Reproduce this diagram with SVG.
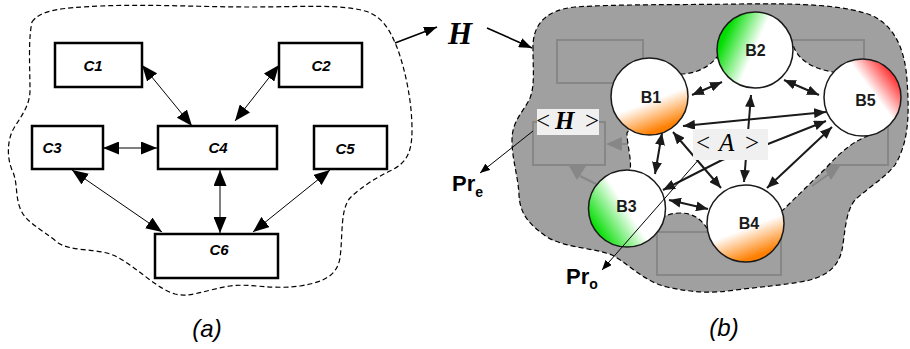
<svg xmlns="http://www.w3.org/2000/svg" width="910" height="349" viewBox="0 0 910 349">
<defs>
<style>
.box{fill:#fff;stroke:#000;stroke-width:2.5}
.clab{font-family:"Liberation Sans",Arial,sans-serif;font-style:italic;font-weight:bold;font-size:15px;text-anchor:middle;fill:#000}
.blab{font-family:"Liberation Sans",Arial,sans-serif;font-weight:bold;font-size:16px;text-anchor:middle;fill:#1a1a1a}
.circ{stroke:#1a1a1a;stroke-width:1.5}
.ca{stroke:#000;stroke-width:1;fill:none;marker-start:url(#ha);marker-end:url(#ha)}
.cb{stroke:#1a1a1a;stroke-width:2;fill:none;marker-start:url(#hb);marker-end:url(#hb)}
.cp{stroke:#000;stroke-width:1;fill:none;marker-end:url(#hs)}
.ch{stroke:#000;stroke-width:1.6;fill:none;marker-end:url(#hh)}
.blob{stroke:#000;stroke-width:1.2;stroke-dasharray:5 3}
.ghost{fill:none;stroke:#878787;stroke-width:2}
.gh{fill:#878787}
.ser{font-family:"Liberation Serif","Times New Roman",serif;font-size:25px;fill:#000}
.cap{font-family:"Liberation Sans",Arial,sans-serif;font-style:italic;font-size:24px;text-anchor:middle;fill:#000}
.pr{font-family:"Liberation Sans",Arial,sans-serif;font-weight:bold;font-size:22px;fill:#000}
.lbox{fill:#f0f0f0}
</style>
<marker id="ha" markerUnits="userSpaceOnUse" viewBox="0 0 16 13" refX="16" refY="6.5" markerWidth="16" markerHeight="13" orient="auto-start-reverse"><path d="M0,0 L16,6.5 L0,13 z" fill="#000"/></marker>
<marker id="hb" markerUnits="userSpaceOnUse" viewBox="0 0 12 10" refX="12" refY="5" markerWidth="12" markerHeight="10" orient="auto-start-reverse"><path d="M0,0 L12,5 L0,10 z" fill="#1a1a1a"/></marker>
<marker id="hs" markerUnits="userSpaceOnUse" viewBox="0 0 10 8" refX="10" refY="4" markerWidth="10" markerHeight="8" orient="auto"><path d="M0,0 L10,4 L0,8 z" fill="#000"/></marker>
<marker id="hh" markerUnits="userSpaceOnUse" viewBox="0 0 13 10" refX="13" refY="5" markerWidth="13" markerHeight="10" orient="auto"><path d="M0,0 L13,5 L0,10 z" fill="#000"/></marker>
<linearGradient id="gOr" x1="0.35" y1="0.3" x2="0.62" y2="1"><stop offset="0" stop-color="#fff"/><stop offset="0.4" stop-color="#fff"/><stop offset="0.92" stop-color="#ff7f00"/><stop offset="1" stop-color="#ff7f00"/></linearGradient>
<linearGradient id="gGr2" x1="0" y1="0.3" x2="0.72" y2="0.62"><stop offset="0" stop-color="#00dd00"/><stop offset="0.12" stop-color="#00dd00"/><stop offset="0.68" stop-color="#fff"/><stop offset="1" stop-color="#fff"/></linearGradient>
<linearGradient id="gGr3" x1="0" y1="0.8" x2="0.7" y2="0.35"><stop offset="0" stop-color="#00dd00"/><stop offset="0.1" stop-color="#00dd00"/><stop offset="0.7" stop-color="#fff"/><stop offset="1" stop-color="#fff"/></linearGradient>
<linearGradient id="gRd" x1="1" y1="0.1" x2="0.4" y2="0.55"><stop offset="0" stop-color="#ff0000"/><stop offset="0.08" stop-color="#ff0000"/><stop offset="0.66" stop-color="#fff"/><stop offset="1" stop-color="#fff"/></linearGradient>
</defs>

<g id="boundary-a">
<path class="blob" fill="#fff" d="M32,22 C40,10 60,8 100,6 C150,4 200,7 250,7 C300,7 340,4 365,11 C385,17 392,35 398,50 C405,70 412,100 412,130 C412,155 405,163 392,170 C375,178 360,188 350,198 C340,210 343,235 340,258 C337,275 325,282 300,286 C270,290 250,283 230,286 C205,290 190,298 175,294 C155,288 135,265 113,255 C95,248 70,252 57,242 C40,228 25,222 20,208 C15,195 18,182 12,170 C6,155 8,138 14,128 C22,115 30,105 30,90 C30,70 28,40 32,22 Z"/>
</g>

<g id="C1"><rect class="box" x="55" y="43" width="87" height="44"/><text class="clab" x="93" y="71">C1</text></g>
<g id="C2"><rect class="box" x="279" y="43" width="83" height="44"/><text class="clab" x="321" y="71">C2</text></g>
<g id="C3"><rect class="box" x="32" y="126" width="71" height="43"/><text class="clab" x="52" y="153">C3</text></g>
<g id="C4"><rect class="box" x="158" y="126" width="119" height="43"/><text class="clab" x="218" y="153">C4</text></g>
<g id="C5"><rect class="box" x="314" y="126" width="73" height="43"/><text class="clab" x="345" y="154">C5</text></g>
<g id="C6"><rect class="box" x="155" y="234" width="123" height="44"/><text class="clab" x="219" y="255">C6</text></g>

<g id="connectors-a">
<line class="ca" x1="142" y1="65" x2="192" y2="126"/>
<line class="ca" x1="279" y1="65" x2="235" y2="121"/>
<line class="ca" x1="103" y1="148" x2="157" y2="148"/>
<line class="ca" x1="72" y1="170" x2="162" y2="232"/>
<line class="ca" x1="220" y1="170" x2="220" y2="233"/>
<line class="ca" x1="330" y1="170" x2="253" y2="232"/>
<line class="ch" x1="395" y1="43" x2="437" y2="27"/>
<line class="ch" x1="487" y1="28" x2="532" y2="48"/>
</g>

<g id="H-label"><text x="448" y="44" font-family="'Liberation Serif','Times New Roman',serif" font-size="31" font-style="italic" font-weight="bold">H</text></g>

<g id="boundary-b">
<path class="blob" fill="#a0a0a0" d="M533,50 C532,25 545,10 575,7 C620,4 680,5 740,4 C800,3 850,5 875,17 C895,28 905,50 907,80 C909,110 910,140 895,165 C885,178 865,190 855,200 C845,212 845,235 842,250 C838,268 825,278 800,282 C775,286 760,287 735,290 C710,294 690,292 667,287 C645,282 630,265 612,255 C595,248 565,248 547,237 C530,225 520,215 519,195 C518,175 512,160 512,140 C512,120 525,110 530,98 C535,85 533,70 533,50 Z"/>
<rect class="ghost" x="557" y="40" width="86" height="43"/>
<rect class="ghost" x="781" y="40" width="83" height="43"/>
<rect class="ghost" x="533" y="122" width="72" height="43"/>
<rect class="ghost" x="815" y="122" width="73" height="43"/>
<rect class="ghost" x="657" y="232" width="124" height="43"/>
<line class="ghost" x1="620" y1="144" x2="630" y2="144"/>
<polygon class="gh" points="606,144 622,137 622,151"/>
<line class="ghost" stroke-width="1" x1="580" y1="176" x2="598" y2="185"/>
<polygon class="gh" points="569,166 586,166 577,180"/>
<line class="ghost" stroke-width="1" x1="829" y1="174" x2="812" y2="186"/>
<polygon class="gh" points="823,166 840,166 831,180"/>
<path class="blob" fill="#fff" d="M650,100 L680,74 C695,74 708,68 717,57 L755,50 L793,45 C797,57 808,68 833,72 L862,97 L870,135 C856,140 842,150 827,167 L783,210 L745,223 L707,228 C700,218 692,213 680,213 C673,213 668,215 665,216 L627,208 L630,170 C632,160 627,145 627,133 Z"/>
</g>

<g id="B1"><circle class="circ" cx="649.5" cy="96.5" r="38.5" fill="url(#gOr)"/><text class="blab" x="651" y="103">B1</text></g>
<g id="B2"><circle class="circ" cx="755" cy="50" r="38" fill="url(#gGr2)"/><text class="blab" x="755.5" y="56">B2</text></g>
<g id="B3"><circle class="circ" cx="627" cy="208.5" r="38.5" fill="url(#gGr3)"/><text class="blab" x="626.5" y="212">B3</text></g>
<g id="B4"><circle class="circ" cx="745.5" cy="223.5" r="38.5" fill="url(#gOr)"/><text class="blab" x="749" y="229">B4</text></g>
<g id="B5"><circle class="circ" cx="862.5" cy="97.5" r="38.5" fill="url(#gRd)"/><text class="blab" x="865.5" y="106">B5</text></g>

<g id="connectors-b">
<line class="cb" x1="692" y1="95" x2="722" y2="82"/>
<line class="cb" x1="784" y1="80" x2="819" y2="95"/>
<line class="cb" x1="683" y1="126" x2="826" y2="112"/>
<line class="cb" x1="751" y1="95" x2="744" y2="182"/>
<path class="cb" d="M663,190 L722,160 L768,144 L826,121"/>
<line class="cb" x1="662" y1="133" x2="655" y2="174"/>
<line class="cb" x1="673" y1="132" x2="721" y2="188"/>
<line class="cb" x1="669" y1="200" x2="708" y2="209"/>
<line class="cb" x1="832" y1="127" x2="767" y2="188"/>
<line class="cp" x1="533" y1="131" x2="480" y2="173"/>
<line class="cp" x1="701" y1="157" x2="602" y2="270"/>
</g>

<g id="label-H">
<rect class="lbox" x="537" y="109" width="62" height="26"/>
<text class="ser" x="536" y="129">&lt; <tspan x="555" font-style="italic" font-weight="bold">H</tspan> <tspan x="585">&gt;</tspan></text>
</g>
<g id="label-A">
<rect class="lbox" x="693" y="129" width="75" height="31"/>
<text class="ser" x="696" y="151">&lt; <tspan x="719" font-style="italic">A</tspan> <tspan x="745">&gt;</tspan></text>
</g>
<g id="Pr-e"><text class="pr" x="452" y="191">Pr<tspan font-size="14" dy="6">e</tspan></text></g>
<g id="Pr-o"><text class="pr" x="566" y="284">Pr<tspan font-size="14" dy="5">o</tspan></text></g>

<text class="cap" x="207" y="337">(a)</text>
<text class="cap" x="724" y="336">(b)</text>
</svg>
